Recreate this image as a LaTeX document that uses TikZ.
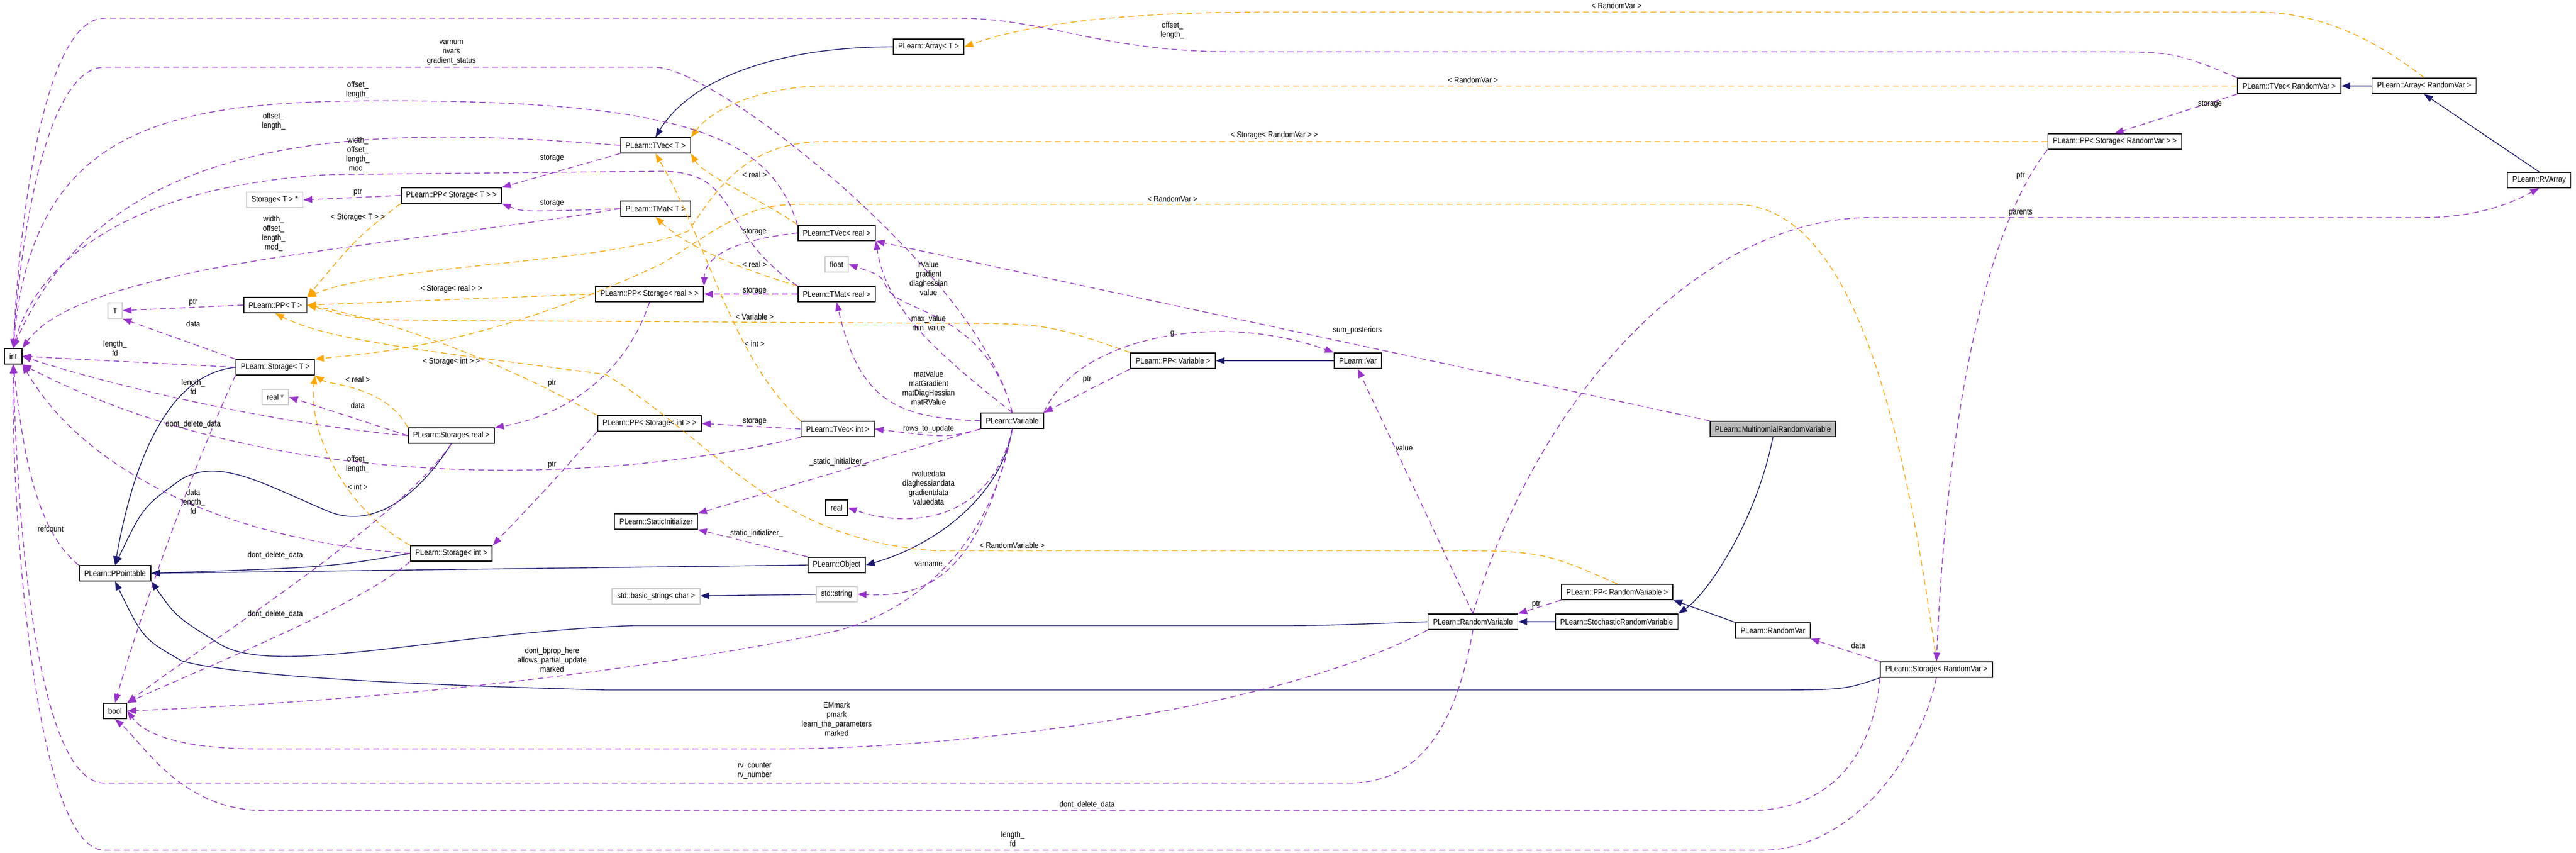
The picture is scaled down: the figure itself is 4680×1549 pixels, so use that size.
\documentclass[tikz,border=0pt]{standalone}
\usepackage{fontspec}
\setmainfont{Liberation Sans}[FakeStretch=0.88]
\usetikzlibrary{arrows.meta}
\definecolor{usecol}{HTML}{9A32CD}
\definecolor{tplcol}{HTML}{FFA500}
\definecolor{inhcol}{HTML}{191970}

\tikzstyle{cls} = [draw=black, line width=0.5pt, fill=white, font=\fontsize{4.2}{4.8}\selectfont,%
                   minimum height=2.8mm, inner xsep=0.9mm, inner ysep=0.4mm, anchor=center]
\tikzstyle{ext} = [cls, draw=gray!40]
\tikzstyle{lbl} = [font=\fontsize{4.2}{4.8}\selectfont, align=center, inner sep=0.5pt]
\tikzstyle{usage} = [draw=usecol, densely dashed, line width=0.4pt, -{Triangle[length=1.6mm,width=1.2mm]}]
\tikzstyle{tmpl} = [draw=tplcol, densely dashed, line width=0.4pt, -{Triangle[length=1.6mm,width=1.2mm]}]
\tikzstyle{inh} = [draw=inhcol, line width=0.4pt, -{Triangle[length=1.6mm,width=1.2mm]}]

\begin{document}
\begin{tikzpicture}[x=0.1mm, y=-0.1mm]
	\useasboundingbox (0,0) rectangle (4680,1549);

	% classes
	\node (int)        [cls] at (24,647)   {int};
	\node (tvecT)      [cls] at (1191,264) {PLearn::TVec< T >};
	\node (ppStT)      [cls] at (820,355)  {PLearn::PP< Storage< T > >};
	\node (stTptr)     [ext] at (499,363)  {Storage< T > *};
	\node (tmatT)      [cls] at (1191,379) {PLearn::TMat< T >};
	\node (tvecReal)   [cls] at (1520,423) {PLearn::TVec< real >};
	\node (float)      [ext] at (1520,480) {float};
	\node (ppStReal)   [cls] at (1180,534) {PLearn::PP< Storage< real > >};
	\node (tmatReal)   [cls] at (1520,534) {PLearn::TMat< real >};
	\node (T)          [ext] at (209,564)  {T};
	\node (ppT)        [cls] at (500,554)  {PLearn::PP< T >};
	\node (storT)      [cls] at (500,667)  {PLearn::Storage< T >};
	\node (realptr)    [ext] at (500,721)  {real *};
	\node (storReal)   [cls] at (820,791)  {PLearn::Storage< real >};
	\node (ppStInt)    [cls] at (1180,769) {PLearn::PP< Storage< int > >};
	\node (tvecInt)    [cls] at (1522,779) {PLearn::TVec< int >};
	\node (statInit)   [cls] at (1192,947) {PLearn::StaticInitializer};
	\node (real)       [cls] at (1520,922) {real};
	\node (storInt)    [cls] at (820,1005) {PLearn::Storage< int >};
	\node (ppointable) [cls] at (209,1041) {PLearn::PPointable};
	\node (object)     [cls] at (1520,1026) {PLearn::Object};
	\node (bstring)    [ext] at (1192,1083) {std::basic\_string< char >};
	\node (string)     [ext] at (1520,1079) {std::string};
	\node (bool)       [cls] at (209,1291) {bool};
	\node (arrayT)     [cls] at (1687,85)  {PLearn::Array< T >};
	\node (variable)   [cls] at (1839,764) {PLearn::Variable};
	\node (ppVar)      [cls] at (2131,655) {PLearn::PP< Variable >};
	\node (var)        [cls] at (2467,655) {PLearn::Var};
	\node (randVariable)   [cls] at (2676,1129) {PLearn::RandomVariable};
	\node (ppRandVariable) [cls] at (2938,1075) {PLearn::PP< RandomVariable >};
	\node (stochRV)    [cls] at (2937,1129) {PLearn::StochasticRandomVariable};
	\node (randVar)    [cls] at (3221,1145) {PLearn::RandomVar};
	\node (storRV)     [cls] at (3518,1216) {PLearn::Storage< RandomVar >};
	\node (multiRV)    [cls, fill=gray!55] at (3221,779) {PLearn::MultinomialRandomVariable};
	\node (tvecRV)     [cls] at (4159,156) {PLearn::TVec< RandomVar >};
	\node (arrayRV)    [cls] at (4404,156) {PLearn::Array< RandomVar >};
	\node (ppStRV)     [cls] at (3842,257) {PLearn::PP< Storage< RandomVar > >};
	\node (rvArray)    [cls] at (4613,327) {PLearn::RVArray};

	% inheritance
	\draw[inh] (arrayT.west) .. controls (1400,85) and (1250,150) .. (tvecT.north);
	\draw[inh] (arrayRV) -- (tvecRV);
	\draw[inh] (rvArray.north) -- (arrayRV.south);
	\draw[inh] (var) -- (ppVar);
	\draw[inh] (storT.west) .. controls (300,680) and (240,850) .. (ppointable.north);
	\draw[inh] (storReal.south) .. controls (760,900) and (680,960) .. (600,930) .. controls (480,880) and (400,830) .. (330,870) .. controls (260,920) .. (ppointable.north);
	\draw[inh] (storInt.west) .. controls (600,1030) .. (ppointable.east);
	\draw[inh] (object.west) -- (ppointable.east);
	\draw[inh] (variable.south) .. controls (1820,900) and (1700,990) .. (object.east);
	\draw[inh] (string) -- (bstring);
	\draw[inh] (randVariable.west) .. controls (2400,1136) .. (2300,1136) -- (1150,1136) .. controls (800,1150) and (500,1230) .. (400,1170) .. controls (320,1120) .. (ppointable.south east);
	\draw[inh] (storRV.south west) .. controls (3350,1253) .. (3200,1253) -- (1100,1253) .. controls (600,1240) and (400,1220) .. (330,1200) .. controls (260,1160) .. (ppointable.south);
	\draw[inh] (stochRV) -- (randVariable);
	\draw[inh] (multiRV.south) .. controls (3190,950) and (3100,1080) .. (stochRV.north east);
	\draw[inh] (randVar.north west) -- (ppRandVariable.south east);

	% template instances
	\draw[tmpl] (arrayRV.north) .. controls (4300,60) and (4200,22) .. (4100,22) -- (2300,22) .. controls (2000,22) and (1850,50) .. (arrayT.east) node[lbl, at={(2937,10)}] {< RandomVar >};
	\draw[tmpl] (tvecRV.west) -- (1500,156) .. controls (1400,156) and (1300,190) .. (tvecT.north east) node[lbl, at={(2676,145)}] {< RandomVar >};
	\draw[tmpl] (ppStRV.west) -- (1500,257) .. controls (1350,257) and (1300,350) .. (1250,420) .. controls (1100,480) and (700,480) .. (ppT.north east) node[lbl, at={(2315,246)}] {< Storage< RandomVar > >};
	\draw[tmpl] (storRV.north) .. controls (3450,700) and (3350,371) .. (3150,371) -- (1450,371) .. controls (1350,371) and (1300,420) .. (1200,480) .. controls (900,620) and (700,640) .. (storT.north east) node[lbl, at={(2130,361)}] {< RandomVar >};
	\draw[tmpl] (tvecReal.north west) .. controls (1380,360) and (1280,320) .. (tvecT.south east) node[lbl, at={(1371,317)}] {< real >};
	\draw[tmpl] (tmatReal.north west) .. controls (1350,490) and (1250,450) .. (tmatT.south) node[lbl, at={(1371,480)}] {< real >};
	\draw[tmpl] (tvecInt.north west) .. controls (1330,650) and (1290,450) .. (tvecT.south) node[lbl, at={(1371,624)}] {< int >};
	\draw[tmpl] (storReal.north west) .. controls (700,700) and (600,700) .. (storT.south east) node[lbl, at={(650,689)}] {< real >};
	\draw[tmpl] (storInt.north west) .. controls (620,920) and (560,780) .. (storT.south east) node[lbl, at={(650,884)}] {< int >};
	\draw[tmpl] (ppStT.south west) .. controls (650,430) .. (ppT.north east) node[lbl, at={(650,395)}] {< Storage< T > >};
	\draw[tmpl] (ppStReal.west) -- (ppT.east) node[lbl, at={(820,525)}] {< Storage< real > >};
	\draw[tmpl] (ppStInt.north west) .. controls (900,650) and (700,580) .. (ppT.east) node[lbl, at={(820,657)}] {< Storage< int > >};
	\draw[tmpl] (ppVar.north west) .. controls (1900,587) .. (1700,587) -- (800,582) .. controls (650,580) .. (ppT.east) node[lbl, at={(1371,575)}] {< Variable >};
	\draw[tmpl] (ppRandVariable.north) .. controls (2800,1000) .. (2600,1000) -- (1700,1000) .. controls (1400,980) and (1300,800) .. (1100,680) .. controls (800,640) and (600,620) .. (ppT.south) node[lbl, at={(1839,990)}] {< RandomVariable >};

	% usage
	\draw[usage] (variable.north) .. controls (1780,500) and (1300,122) .. (1190,122) -- (190,122) .. controls (90,122) and (40,400) .. (int.north) node[lbl, at={(820,95)}] {varnum\\nvars\\gradient\_status};
	\draw[usage] (tvecRV.north west) .. controls (3950,94) .. (3800,94) -- (2240,94) .. controls (2000,94) and (1900,33) .. (1740,33) -- (190,33) .. controls (80,33) and (35,400) .. (int.north) node[lbl, at={(2130,55)}] {offset\_\\length\_};
	\draw[usage] (tvecReal.north west) .. controls (1400,250) and (1250,183) .. (700,183) .. controls (300,183) and (60,230) .. (int.north) node[lbl, at={(650,163)}] {offset\_\\length\_};
	\draw[usage] (tvecT.west) .. controls (700,230) and (200,220) .. (int.north) node[lbl, at={(497,220)}] {offset\_\\length\_};
	\draw[usage] (tmatReal.north west) .. controls (1300,420) and (1350,311) .. (1200,311) -- (600,317) .. controls (200,340) and (60,500) .. (int.north) node[lbl, at={(650,281)}] {width\_\\offset\_\\length\_\\mod\_};
	\draw[usage] (tmatT.west) .. controls (700,450) and (150,480) .. (int.north east) node[lbl, at={(497,424)}] {width\_\\offset\_\\length\_\\mod\_};
	\draw[usage] (storT.west) -- (int.east) node[lbl, at={(209,633)}] {length\_\\fd};
	\draw[usage] (storReal.west) .. controls (500,770) and (200,700) .. (int.east) node[lbl, at={(351,703)}] {length\_\\fd};
	\draw[usage] (tvecInt.south west) .. controls (1100,880) and (500,900) .. (int.south east) node[lbl, at={(650,843)}] {offset\_\\length\_};
	\draw[usage] (storInt.west) .. controls (400,980) and (150,850) .. (int.south east) node[lbl, at={(351,911)}] {data\\length\_\\fd};
	\draw[usage] (ppointable.north west) .. controls (60,960) and (40,800) .. (int.south) node[lbl, at={(92,960)}] {refcount};
	\draw[usage] (randVariable.south) .. controls (2640,1350) and (2560,1422) .. (2450,1422) -- (190,1422) .. controls (60,1422) and (30,900) .. (int.south) node[lbl, at={(1371,1400)}] {rv\_counter\\rv\_number};
	\draw[usage] (storRV.south) .. controls (3480,1400) and (3350,1544) .. (3200,1544) -- (190,1544) .. controls (60,1544) and (20,900) .. (int.south) node[lbl, at={(1840,1524)}] {length\_\\fd};
	\draw[usage] (storRV.south west) .. controls (3400,1400) and (3300,1472) .. (3180,1472) -- (480,1472) .. controls (330,1472) and (260,1350) .. (bool.south) node[lbl, at={(1975,1462)}] {dont\_delete\_data};
	\draw[usage] (randVariable.south west) .. controls (2300,1300) and (1700,1360) .. (1420,1360) -- (470,1360) .. controls (320,1360) and (260,1330) .. (bool.east) node[lbl, at={(1520,1306)}] {EMmark\\pmark\\learn\_the\_parameters\\marked};
	\draw[usage] (variable.south) .. controls (1800,1000) and (1650,1120) .. (1500,1150) .. controls (1000,1250) and (500,1280) .. (bool.east) node[lbl, at={(1003,1198)}] {dont\_bprop\_here\\allows\_partial\_update\\marked};
	\draw[usage] (storT.south west) .. controls (350,850) and (260,1100) .. (bool.north) node[lbl, at={(351,771)}] {dont\_delete\_data};
	\draw[usage] (storReal.south) .. controls (720,950) and (400,1150) .. (bool.north east) node[lbl, at={(500,1009)}] {dont\_delete\_data};
	\draw[usage] (storInt.south west) .. controls (650,1100) and (400,1200) .. (bool.north east) node[lbl, at={(500,1116)}] {dont\_delete\_data};
	\draw[usage] (ppStT.west) -- (stTptr.east) node[lbl, at={(650,349)}] {ptr};
	\draw[usage] (ppT.west) -- (T.east) node[lbl, at={(351,549)}] {ptr};
	\draw[usage] (storT.north west) -- (T.south east) node[lbl, at={(351,588)}] {data};
	\draw[usage] (storReal.west) -- (realptr.east) node[lbl, at={(650,736)}] {data};
	\draw[usage] (tvecT.south west) -- (ppStT.north east) node[lbl, at={(1003,287)}] {storage};
	\draw[usage] (tmatT.west) .. controls (950,385) .. (ppStT.south east) node[lbl, at={(1003,369)}] {storage};
	\draw[usage] (tvecReal.west) .. controls (1300,440) and (1280,480) .. (ppStReal.north east) node[lbl, at={(1371,421)}] {storage};
	\draw[usage] (tmatReal.west) -- (ppStReal.east) node[lbl, at={(1371,528)}] {storage};
	\draw[usage] (ppStReal.south) .. controls (1130,700) and (1000,760) .. (storReal.north east) node[lbl, at={(1003,696)}] {ptr};
	\draw[usage] (tvecInt.west) -- (ppStInt.east) node[lbl, at={(1371,765)}] {storage};
	\draw[usage] (ppStInt.south west) .. controls (1000,880) .. (storInt.north east) node[lbl, at={(1003,844)}] {ptr};
	\draw[usage] (variable.south west) -- (statInit.north east) node[lbl, at={(1522,839)}] {\_static\_initializer\_};
	\draw[usage] (object.north west) -- (statInit.south east) node[lbl, at={(1371,969)}] {\_static\_initializer\_};
	\draw[usage] (variable.north) .. controls (1700,640) and (1610,560) .. (tvecReal.south east) node[lbl, at={(1687,506)}] {rValue\\gradient\\diaghessian\\value};
	\draw[usage] (variable.north) .. controls (1790,560) and (1630,570) .. (1610,520) .. controls (1600,500) .. (float.east) node[lbl, at={(1687,588)}] {max\_value\\min\_value};
	\draw[usage] (variable.west) .. controls (1620,760) and (1560,720) .. (tmatReal.south) node[lbl, at={(1687,705)}] {matValue\\matGradient\\matDiagHessian\\matRValue};
	\draw[usage] (variable.south west) .. controls (1720,795) .. (tvecInt.east) node[lbl, at={(1687,779)}] {rows\_to\_update};
	\draw[usage] (variable.south) .. controls (1800,950) and (1650,960) .. (real.east) node[lbl, at={(1687,886)}] {rvaluedata\\diaghessiandata\\gradientdata\\valuedata};
	\draw[usage] (variable.south) .. controls (1780,1050) and (1680,1085) .. (string.east) node[lbl, at={(1687,1025)}] {varname};
	\draw[usage] (variable.north east) .. controls (1950,620) and (2200,560) .. (var.north west) node[lbl, at={(2130,606)}] {g};
	\draw[usage] (ppVar.south west) -- (variable.north east) node[lbl, at={(1975,689)}] {ptr};
	\draw[usage] (multiRV.north west) -- (tvecReal.south east) node[lbl, at={(2466,600)}] {sum\_posteriors};
	\draw[usage] (randVariable.north) -- (var.south) node[lbl, at={(2551,813)}] {value};
	\draw[usage] (ppRandVariable.south west) -- (randVariable.north east) node[lbl, at={(2791,1097)}] {ptr};
	\draw[usage] (randVariable.north) .. controls (2800,700) and (3100,395) .. (3400,395) -- (4400,395) .. controls (4500,395) and (4560,370) .. (rvArray.south) node[lbl, at={(3671,386)}] {parents};
	\draw[usage] (tvecRV.south west) -- (ppStRV.north) node[lbl, at={(4015,189)}] {storage};
	\draw[usage] (ppStRV.south west) .. controls (3620,400) and (3540,700) .. (storRV.north) node[lbl, at={(3671,319)}] {ptr};
	\draw[usage] (storRV.north west) -- (randVar.south east) node[lbl, at={(3376,1172)}] {data};
\end{tikzpicture}
\end{document}
